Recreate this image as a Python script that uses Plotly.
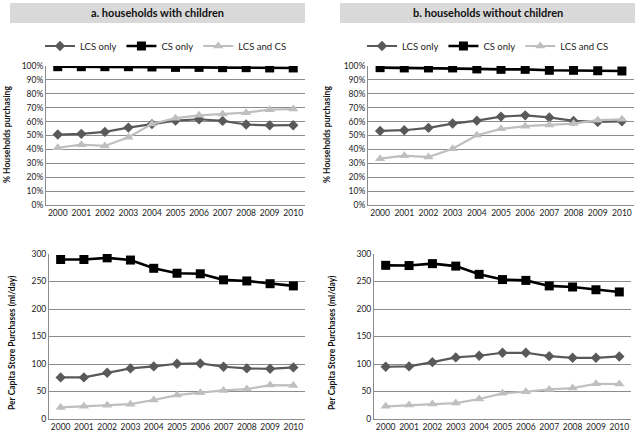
import plotly.graph_objects as go

years = [str(y) for y in range(2000, 2011)]

# % households purchasing (fractions)
with_lcs_pct = [0.507, 0.512, 0.526, 0.557, 0.582, 0.607, 0.617, 0.605, 0.579, 0.573, 0.574]
with_cs_pct = [0.995, 0.995, 0.995, 0.995, 0.993, 0.990, 0.990, 0.988, 0.988, 0.986, 0.986]
with_both_pct = [0.412, 0.434, 0.425, 0.488, 0.583, 0.625, 0.645, 0.654, 0.664, 0.686, 0.690]

without_lcs_pct = [0.533, 0.538, 0.555, 0.586, 0.607, 0.636, 0.645, 0.630, 0.605, 0.598, 0.602]
without_cs_pct = [0.988, 0.986, 0.986, 0.986, 0.979, 0.976, 0.976, 0.969, 0.969, 0.966, 0.964]
without_both_pct = [0.333, 0.355, 0.345, 0.405, 0.502, 0.548, 0.567, 0.576, 0.586, 0.610, 0.617]

# per capita store purchases (ml/day)
with_lcs_ml = [75.6, 75.6, 84, 92, 95.6, 100.4, 101, 95, 92, 91.3, 93.8]
with_cs_ml = [290, 290, 293, 289, 274, 265, 264, 253, 251, 246, 242]
with_both_ml = [21, 23, 24.8, 27, 34.5, 43.5, 47.8, 52, 54.4, 61.7, 61]

without_lcs_ml = [95, 95.6, 103.4, 112, 115, 120.4, 120.4, 114.3, 111.3, 111.3, 113.7]
without_cs_ml = [279.4, 279, 282.5, 278, 263, 253.5, 252, 242, 240, 235, 231]
without_both_ml = [23, 25.4, 27.2, 29, 36.3, 46.6, 49.6, 53.8, 56.3, 64.1, 63.5]

series_names = ["LCS only", "CS only", "LCS and CS"]
colors = ["#595959", "#000000", "#BFBFBF"]
symbols = ["diamond", "square", "triangle-up"]
msizes = [8, 9, 9]
lwidths = [2.2, 2.6, 2.2]

FONT = "Lato"
grid = "#8C8C8C"

fig = go.Figure()

panels = [
    ("x", "y", [with_lcs_pct, with_cs_pct, with_both_pct], "legend"),
    ("x2", "y2", [without_lcs_pct, without_cs_pct, without_both_pct], "legend2"),
    ("x3", "y3", [with_lcs_ml, with_cs_ml, with_both_ml], None),
    ("x4", "y4", [without_lcs_ml, without_cs_ml, without_both_ml], None),
]

for xa, ya, data, leg in panels:
    for i in range(3):
        fig.add_trace(go.Scatter(
            x=years, y=data[i], name=series_names[i],
            xaxis=xa, yaxis=ya, mode="lines+markers",
            line=dict(color=colors[i], width=lwidths[i]),
            marker=dict(symbol=symbols[i], size=msizes[i], color=colors[i]),
            showlegend=leg is not None,
            legend=leg if leg else "legend",
        ))

W, H = 640, 439
x_tl = [46 / W, 305 / W]
x_tr = [368 / W, 634 / W]
x_bl = [49 / W, 305 / W]
x_br = [374 / W, 631 / W]
ytop = [1 - 205 / H, 1 - 66 / H]
ybot = [1 - 419 / H, 1 - 254 / H]

tickfont = dict(family=FONT, size=8.5, color="#222222")

def xaxis(dom, anchor):
    return dict(domain=dom, anchor=anchor, type="category", range=[-0.5, 10.5],
                showgrid=False, showline=True, linecolor=grid, linewidth=1,
                ticks="", tickfont=tickfont, fixedrange=True, automargin=False)

def yaxis(dom, anchor, rng, dtick, fmt):
    return dict(domain=dom, anchor=anchor, range=rng, dtick=dtick, tickformat=fmt,
                showgrid=True, gridcolor=grid, gridwidth=1, zeroline=False,
                showline=True, linecolor=grid, linewidth=1, ticks="",
                tickfont=tickfont, fixedrange=True, automargin=False)

legfont = dict(family=FONT, size=9.5, color="#222222")

fig.update_layout(
    width=W, height=H,
    margin=dict(l=0, r=0, t=0, b=0, autoexpand=False),
    paper_bgcolor="white", plot_bgcolor="white",
    font=dict(family=FONT, size=9, color="#222222"),
    xaxis=xaxis(x_tl, "y"),
    yaxis=yaxis(ytop, "x", [0, 1.0], 0.1, ".0%"),
    xaxis2=xaxis(x_tr, "y2"),
    yaxis2=yaxis(ytop, "x2", [0, 1.0], 0.1, ".0%"),
    xaxis3=xaxis(x_bl, "y3"),
    yaxis3=yaxis(ybot, "x3", [0, 300], 50, "d"),
    xaxis4=xaxis(x_br, "y4"),
    yaxis4=yaxis(ybot, "x4", [0, 300], 50, "d"),
    legend=dict(orientation="h", x=40 / W, y=1 - 46 / H, xanchor="left", yanchor="middle",
                font=legfont, itemwidth=30, bgcolor="rgba(0,0,0,0)"),
    legend2=dict(orientation="h", x=362 / W, y=1 - 46 / H, xanchor="left", yanchor="middle",
                 font=legfont, itemwidth=30, bgcolor="rgba(0,0,0,0)"),
)

# grey title boxes
for x0, x1, text in [(10 / W, 305 / W, "a. households with children"),
                     (340 / W, 635 / W, "b. households without children")]:
    fig.add_shape(type="rect", xref="paper", yref="paper",
                  x0=x0, x1=x1, y0=1 - 23 / H, y1=1 - 3 / H,
                  fillcolor="#D9D9D9", line=dict(width=0), layer="below")
    fig.add_annotation(xref="paper", yref="paper", x=(x0 + x1) / 2, y=1 - 13 / H,
                       xanchor="center", yanchor="middle",
                       text="<b>" + text + "</b>", showarrow=False,
                       font=dict(family=FONT, size=11, color="#111111"))

# axis titles
for x, y, text in [(7 / W, 1 - 135 / H, "% Households purchasing"),
                   (327 / W, 1 - 135 / H, "% Households purchasing"),
                   (12 / W, 1 - 343 / H, "Per Capita Store Purchases (ml/day)"),
                   (332 / W, 1 - 343 / H, "Per Capita Store Purchases (ml/day)")]:
    fig.add_annotation(xref="paper", yref="paper", x=x, y=y, text="<b>" + text + "</b>",
                       xanchor="center", yanchor="middle",
                       textangle=-90, showarrow=False,
                       font=dict(family=FONT, size=8.5, color="#111111"))

# page body has a default 8px margin; drop it so the figure fills the window
fig.write_html("out.html", config={"displayModeBar": False},
               post_script="document.body.style.margin='0';")
